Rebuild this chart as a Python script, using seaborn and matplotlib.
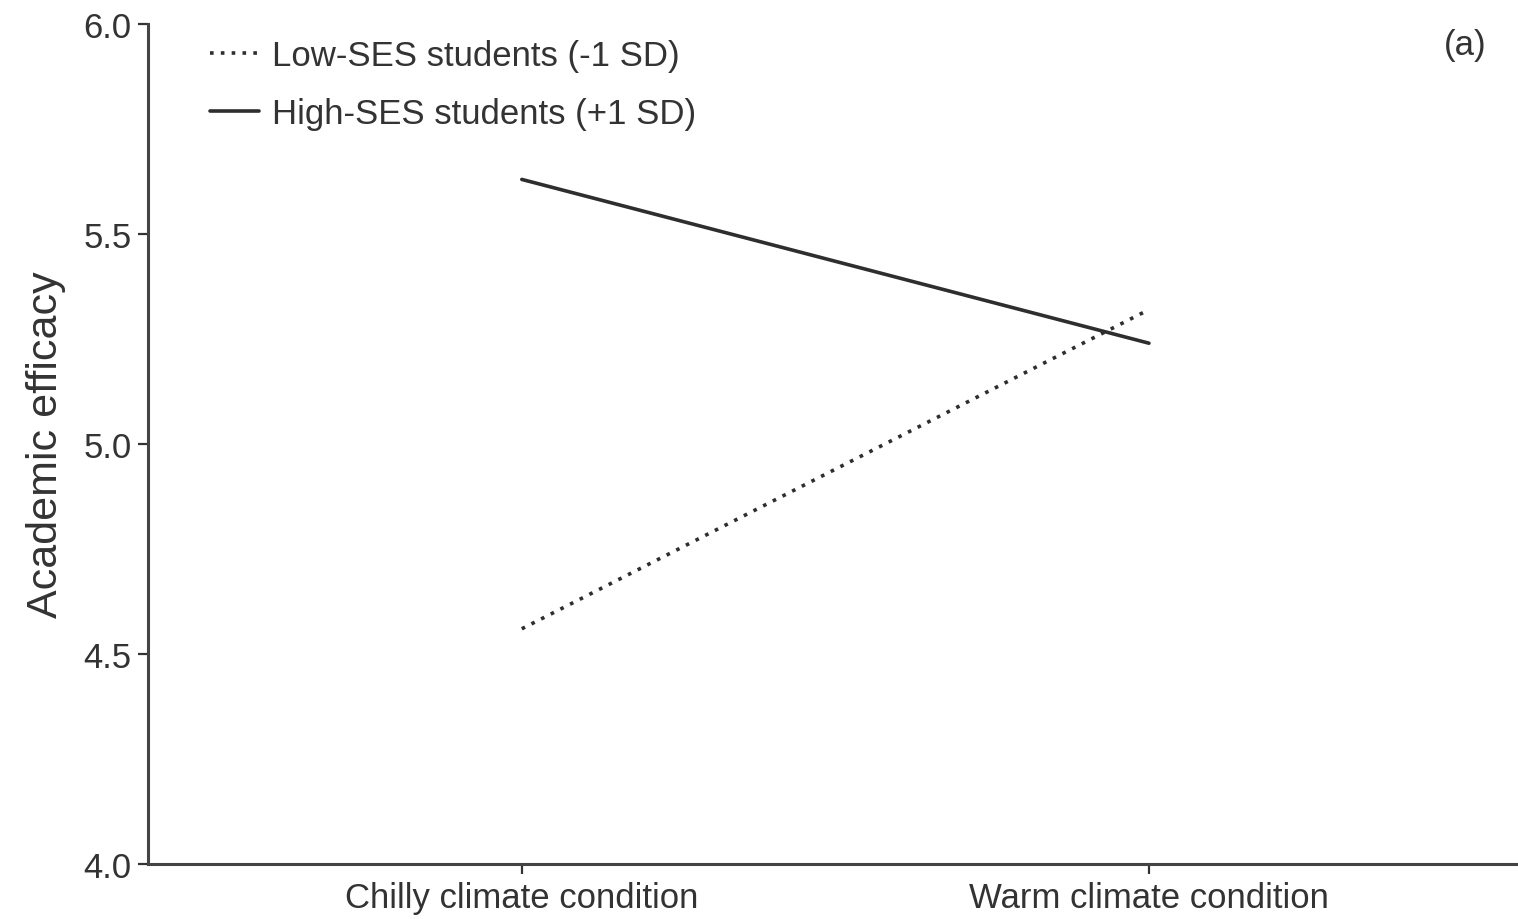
import pandas as pd
import numpy as np
import seaborn as sns
import matplotlib.pyplot as plt

# Data
conditions = ["Chilly climate condition", "Warm climate condition"]
groups = ["Low-SES students (-1 SD)", "High-SES students (+1 SD)"]
low_ses = [4.56, 5.32]
high_ses = [5.63, 5.24]

df = pd.DataFrame({
    "x": [0, 1, 0, 1],
    "efficacy": low_ses + high_ses,
    "group": [groups[0]] * 2 + [groups[1]] * 2,
})

sns.set_style("ticks")
plt.rcParams["font.family"] = ["Liberation Sans", "DejaVu Sans"]

fig = plt.figure(figsize=(15.18, 9.2), dpi=100)
ax = fig.add_axes([0.0975, 0.0598, 0.9015, 0.913])

sns.lineplot(data=df, x="x", y="efficacy", hue="group", style="group",
             palette=["#2e2e2e", "#2e2e2e"], dashes=[(1, 2), ""],
             linewidth=2.6, ax=ax, legend=True)

ax.set_xlim(-0.596, 1.586)
ax.set_ylim(4.0, 6.0)
ax.set_xticks([0, 1])
ax.set_xticklabels(conditions)
ax.set_yticks([4.0, 4.5, 5.0, 5.5, 6.0])
ax.set_yticklabels(["4.0", "4.5", "5.0", "5.5", "6.0"])
ax.tick_params(axis="both", labelsize=25, colors="#333333", length=7, width=1.6, pad=5)
ax.set_xlabel("")
ax.set_ylabel("Academic efficacy", fontsize=31, color="#333333", labelpad=12)

for side in ["top", "right"]:
    ax.spines[side].set_visible(False)
for side in ["left", "bottom"]:
    ax.spines[side].set_linewidth(2.2)
    ax.spines[side].set_color("#444444")

leg = ax.legend(loc="upper left", bbox_to_anchor=(0.0453, 0.982), frameon=False,
                borderaxespad=0, borderpad=0,
                fontsize=25, handlelength=1.4, handletextpad=0.4, labelspacing=0.72)
for t in leg.get_texts():
    t.set_color("#333333")

ax.text(0.978, 0.995, "(a)", transform=ax.transAxes, fontsize=25,
        color="#333333", ha="right", va="top")

fig.savefig("out.png", dpi=100)
